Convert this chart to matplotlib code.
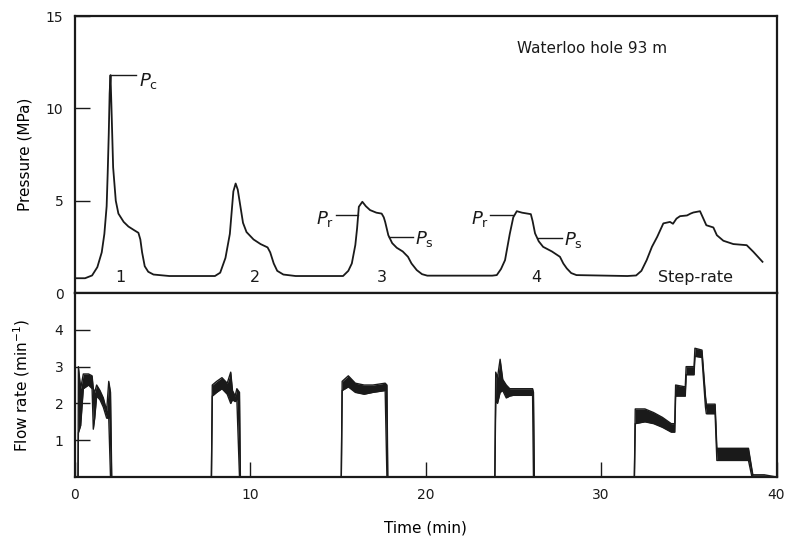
import numpy as np
import matplotlib
matplotlib.use('Agg')
import matplotlib.pyplot as plt

plt.rcParams['font.family'] = ['DejaVu Sans']
plt.rcParams['mathtext.fontset'] = 'dejavusans'

# pressure record (time in min, pressure in MPa)
t_p = [0.0, 0.6, 1.0, 1.3, 1.55, 1.7, 1.83, 1.89, 1.95, 2.0, 2.05, 2.1, 2.2, 2.35, 2.5, 2.8,
       3.07, 3.4, 3.64, 3.75, 3.85, 4.0, 4.2, 4.5, 5.4,
       8.0, 8.3, 8.6, 8.85, 9.05, 9.18, 9.3, 9.45, 9.6, 9.8, 10.2, 10.6, 11.0,
       11.15, 11.35, 11.55, 11.9, 12.6,
       15.3, 15.6, 15.8, 16.0, 16.1, 16.2, 16.4, 16.6, 16.84, 17.2, 17.5, 17.62,
       17.7, 17.88, 18.1, 18.36, 18.7, 19.0, 19.2, 19.5, 19.8, 20.1,
       23.8, 24.06, 24.3, 24.53, 24.8, 25.0, 25.2, 25.5, 26.0, 26.1, 26.24, 26.45,
       26.7, 27.2, 27.66, 27.85, 28.05, 28.3, 28.6,
       31.5, 32.0, 32.3, 32.6, 32.9, 33.2, 33.55, 33.93, 34.1, 34.3, 34.5, 34.9,
       35.1, 35.26, 35.64, 35.83, 36.0, 36.4, 36.6, 36.97, 37.54, 38.3, 38.68, 39.2]
pres = [0.8, 0.8, 0.95, 1.4, 2.2, 3.2, 4.7, 6.5, 8.6, 10.8, 11.8, 10.2, 6.8, 5.0, 4.3, 3.85,
        3.6, 3.4, 3.26, 2.9, 2.2, 1.45, 1.15, 1.0, 0.92,
        0.92, 1.1, 1.9, 3.2, 5.5, 5.93, 5.6, 4.7, 3.8, 3.3, 2.9, 2.65, 2.47,
        2.2, 1.6, 1.2, 1.0, 0.92,
        0.92, 1.2, 1.6, 2.6, 3.5, 4.67, 4.94, 4.7, 4.49, 4.35, 4.3, 4.1,
        3.85, 3.13, 2.7, 2.45, 2.25, 1.96, 1.6, 1.24, 1.02, 0.94,
        0.94, 0.97, 1.3, 1.78, 3.2, 4.1, 4.43, 4.35, 4.27, 3.9, 3.23, 2.8,
        2.5, 2.25, 1.96, 1.6, 1.33, 1.08, 0.97,
        0.92, 0.95, 1.2, 1.78, 2.5, 3.04, 3.77, 3.85, 3.75, 4.03, 4.16, 4.2,
        4.3, 4.36, 4.43, 4.03, 3.67, 3.55, 3.13, 2.83, 2.65, 2.59, 2.23, 1.69]

# flow rate record: time, lower and upper edge of the noisy trace (min^-1)
t_q = [0.0, 0.2, 0.22, 0.35, 0.5, 0.8, 1.0, 1.07, 1.15, 1.26, 1.45, 1.64, 1.83,
       1.95, 2.05, 2.12,
       7.8, 7.85, 8.1, 8.4, 8.7, 8.9, 9.0, 9.15, 9.25, 9.4, 9.45,
       15.2, 15.25, 15.6, 16.0, 16.5, 17.0, 17.7, 17.8, 17.85,
       23.95, 24.0, 24.1, 24.25, 24.4, 24.6, 24.8, 25.0, 26.1, 26.15, 26.2,
       31.9, 31.95, 32.5, 33.0, 33.5, 34.0, 34.2, 34.25, 34.8, 34.85, 35.3,
       35.35, 35.75, 35.95, 36.0, 36.5, 36.6, 38.4, 38.6, 38.65, 39.3, 40.0]
q_lo = [0, 0, 1.2, 1.4, 2.4, 2.5, 2.4, 1.3, 1.6, 2.2, 2.1, 1.9, 1.6,
        1.6, 0, 0,
        0, 2.2, 2.3, 2.4, 2.25, 2.0, 2.1, 2.05, 2.1, 0, 0,
        0, 2.35, 2.45, 2.3, 2.25, 2.3, 2.35, 0, 0,
        0, 2.1, 2.0, 2.3, 2.35, 2.15, 2.2, 2.22, 2.22, 0, 0,
        0, 1.45, 1.5, 1.45, 1.35, 1.22, 1.22, 2.2, 2.2, 2.78, 2.78,
        3.28, 3.25, 1.9, 1.72, 1.72, 0.45, 0.45, 0, 0, 0, 0]
q_hi = [0, 0, 3.0, 2.4, 2.8, 2.8, 2.75, 2.4, 2.3, 2.5, 2.35, 2.15, 1.8,
        2.6, 2.3, 0,
        0, 2.5, 2.6, 2.7, 2.55, 2.85, 2.35, 2.2, 2.4, 2.3, 0,
        0, 2.6, 2.75, 2.55, 2.5, 2.5, 2.55, 2.5, 0,
        0, 2.85, 2.7, 3.2, 2.65, 2.5, 2.4, 2.4, 2.4, 2.3, 0,
        0, 1.85, 1.85, 1.75, 1.62, 1.45, 1.45, 2.5, 2.45, 3.0, 3.0,
        3.5, 3.45, 2.2, 1.98, 1.98, 0.78, 0.78, 0.2, 0.06, 0.06, 0]

col = '#1a1a1a'
fig = plt.figure(figsize=(7.87, 5.41), dpi=100)
ax1 = fig.add_axes([0.0947, 0.4584, 0.892, 0.512])
ax2 = fig.add_axes([0.0947, 0.1183, 0.892, 0.340])

ax1.plot(t_p, pres, color=col, lw=1.3)
ax1.set_xlim(0, 40)
ax1.set_ylim(0, 15)
ax1.set_yticks([0, 5, 10, 15])
ax1.set_xticks([])
ax1.set_ylabel('Pressure (MPa)', fontsize=11)
ax1.yaxis.set_label_coords(-0.06, 0.5)

ax1.text(25.2, 13.0, 'Waterloo hole 93 m', fontsize=11, color=col)
# annotations on the pressure curve
ax1.plot([2.05, 3.5], [11.8, 11.8], color=col, lw=1)
ax1.text(3.7, 11.5, r'$P_{\rm c}$', fontsize=13, color=col, va='center')
ax1.plot([14.9, 16.15], [4.2, 4.2], color=col, lw=1)
ax1.text(14.8, 4.0, r'$P_{\rm r}$', fontsize=13, color=col, va='center', ha='right')
ax1.plot([17.9, 19.3], [3.05, 3.05], color=col, lw=1)
ax1.text(19.4, 2.9, r'$P_{\rm s}$', fontsize=13, color=col, va='center')
ax1.plot([23.7, 25.0], [4.2, 4.2], color=col, lw=1)
ax1.text(23.6, 4.0, r'$P_{\rm r}$', fontsize=13, color=col, va='center', ha='right')
ax1.plot([26.4, 27.8], [3.0, 3.0], color=col, lw=1)
ax1.text(27.9, 2.85, r'$P_{\rm s}$', fontsize=13, color=col, va='center')
for x, s in [(2.6, '1'), (10.3, '2'), (17.5, '3'), (26.3, '4'), (35.4, 'Step-rate')]:
    ax1.text(x, 0.85, s, fontsize=11.5, color=col, ha='center', va='center')

ax2.fill_between(t_q, q_lo, q_hi, color=col, lw=0)
ax2.plot(t_q, q_lo, color=col, lw=1)
ax2.plot(t_q, q_hi, color=col, lw=1)
ax2.set_xlim(0, 40)
ax2.set_ylim(0, 5)
ax2.set_yticks([1, 2, 3, 4])
ax2.set_xticks([0, 10, 20, 30, 40])
ax2.set_ylabel('Flow rate (min$^{-1}$)', fontsize=11)
ax2.yaxis.set_label_coords(-0.06, 0.5)
ax2.set_xlabel('Time (min)', fontsize=11, labelpad=13)

for ax in (ax1, ax2):
    ax.tick_params(direction='in', length=11, width=1, labelsize=10,
                   colors=col, pad=8)
    for sp in ax.spines.values():
        sp.set_linewidth(1.6)
        sp.set_color(col)

fig.savefig('out.png', dpi=100)
